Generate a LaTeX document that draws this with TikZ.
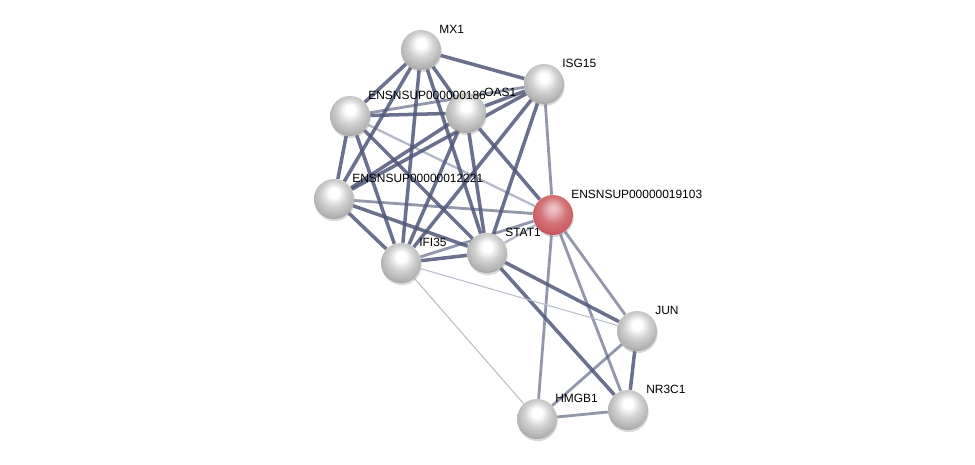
\documentclass[tikz,border=0pt]{standalone}
\usepackage{fontspec}
\setmainfont{Liberation Sans}
\usetikzlibrary{shadows,calc}
\definecolor{edgeslate}{RGB}{80,88,122}
\definecolor{edgefaint}{RGB}{186,190,206}
\definecolor{ballred}{RGB}{204,92,98}
\pgfdeclarelayer{background}
\pgfsetlayers{background,main}
\pgfdeclareradialshading{greyball}{\pgfpoint{0bp}{9bp}}{%
  color(0bp)=(white); color(6bp)=(white); color(16bp)=(black!18);
  color(26bp)=(black!30); color(34bp)=(black!50); color(50bp)=(black!50)}
\pgfdeclareradialshading{redball}{\pgfpoint{0bp}{9bp}}{%
  color(0bp)=(ballred!35!white); color(6bp)=(ballred!45!white); color(16bp)=(ballred!85!white);
  color(26bp)=(ballred); color(34bp)=(ballred!75!black); color(50bp)=(ballred!75!black)}
\tikzset{
  protein/.style={circle, minimum size=0.8cm, inner sep=0pt, shading=#1,
    drop shadow={shadow xshift=0.4pt, shadow yshift=-1.2pt, opacity=0.3}},
  protein/.default=greyball,
  protlabel/.style={anchor=west, inner sep=0pt, font=\fontsize{6.8}{8}\selectfont},
  strong/.style={draw=edgeslate, draw opacity=0.85, line width=2pt},
  medium/.style={draw=edgeslate, draw opacity=0.62, line width=1.6pt},
  weak/.style={draw=edgeslate, draw opacity=0.42, line width=1.3pt},
  faint/.style={draw=edgefaint, line width=0.6pt},
}
\begin{document}
\begin{tikzpicture}[x=0.02cm, y=-0.02cm]
  \useasboundingbox (0,0) rectangle (975,464);

  %% ---- proteins ----
  \foreach \nm/\px/\py in {mx1/421/50, isg15/544/84, ensA/350/116, oas1/466/113,
                           ensB/334/199, stat1/487/253, ifi35/401/263,
                           jun/637/331, nr3c1/628/410, hmgb1/537/419}{
    \node[protein] (\nm) at (\px,\py) {};}
  \node[protein=redball] (query) at (553,215) {};

  %% ---- interactions ----
  \begin{pgfonlayer}{background}
    \fill[white] (0,0) rectangle (975,464);
    \foreach \a/\b in {mx1/isg15, mx1/ensA, mx1/oas1, mx1/ensB, mx1/ifi35, mx1/stat1,
                       isg15/oas1, isg15/ensB, isg15/ifi35, isg15/stat1,
                       ensA/oas1, ensA/ensB, ensA/ifi35, ensA/stat1,
                       oas1/ensB, oas1/ifi35, oas1/stat1, oas1/query,
                       ensB/ifi35, ensB/stat1, ifi35/stat1,
                       stat1/jun, stat1/nr3c1, jun/nr3c1}
      \draw[strong] (\a) -- (\b);
    \foreach \a/\b in {isg15/ensA, isg15/query, ensB/query, ifi35/query,
                       query/jun, query/nr3c1, query/hmgb1, jun/hmgb1, hmgb1/nr3c1}
      \draw[medium] (\a) -- (\b);
    \foreach \a/\b in {ensA/query, stat1/query}
      \draw[weak] (\a) -- (\b);
    \draw[faint] (ifi35) -- (jun);
    \draw[faint] (ifi35) -- (hmgb1);
  \end{pgfonlayer}

  %% ---- names ----
  \foreach \nm/\lbl in {mx1/MX1, isg15/ISG15, ensA/ENSNSUP000000186, oas1/OAS1,
                        ensB/ENSNSUP00000012221, query/ENSNSUP00000019103,
                        stat1/STAT1, ifi35/IFI35, jun/JUN, nr3c1/NR3C1, hmgb1/HMGB1}{
    \node[protlabel] (\nm-lbl) at ([shift={(18,-21)}]\nm.center) {\lbl};}
\end{tikzpicture}
\end{document}
